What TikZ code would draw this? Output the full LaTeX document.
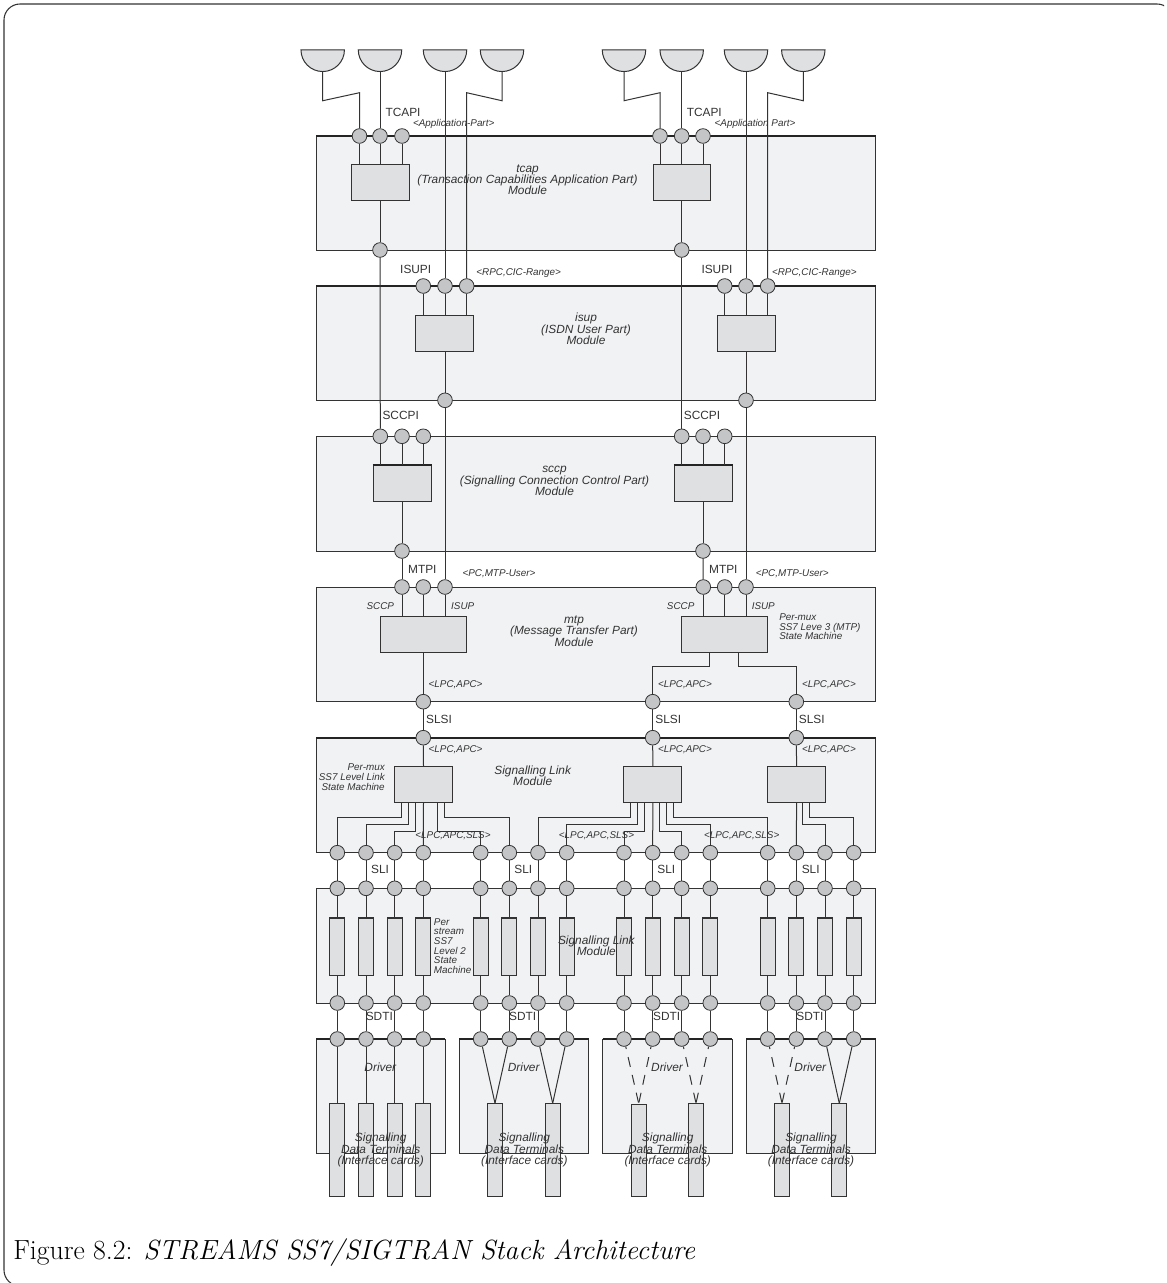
\documentclass[tikz,border=0pt]{standalone}
\usepackage{fontspec}
\usepackage{xcolor}
\usepackage{tikz}
\usetikzlibrary{shapes.geometric}
\newfontfamily\labelfont{Liberation Sans}
\definecolor{modfill}{HTML}{F1F2F4}
\definecolor{boxfill}{HTML}{DFE0E2}
\definecolor{dotfill}{HTML}{C4C5C7}
\definecolor{inkgray}{HTML}{333333}
\tikzset{
    modbox/.style={draw=inkgray, fill=modfill, line width=0.75pt},
    topbar/.style={draw=inkgray!70!black, line width=1.2pt},
    wire/.style={draw=inkgray, line width=0.75pt},
    gapwire/.style={wire, dash pattern=on 7.5pt off 6.2pt, dash phase=5.6pt},
    dot/.style={circle, draw=inkgray, fill=dotfill, line width=0.6pt, inner sep=0pt, minimum size=11pt},
    block/.style={rectangle, draw=inkgray, fill=boxfill, line width=0.75pt, inner sep=0pt, minimum width=43.4pt, minimum height=27pt},
    widebox/.style={block, minimum width=64.6pt},
    strm/.style={block, minimum width=11pt, minimum height=43.2pt,
        path picture={\draw[line width=2pt, inkgray] (path picture bounding box.north west) -- (path picture bounding box.north east);}},
    term/.style={block, minimum width=11pt, minimum height=69.7pt},
    app/.style={semicircle, shape border rotate=180, draw=inkgray, fill=boxfill, line width=0.75pt, inner sep=0pt, minimum width=32.5pt, minimum height=16.3pt, anchor=chord center},
    ifname/.style={inner sep=0pt, text=inkgray, font=\labelfont\fontsize{8.9}{8.6}\selectfont},
    modname/.style={inner sep=0pt, text=inkgray, align=center, font=\labelfont\itshape\fontsize{8.9}{8.6}\selectfont},
    note/.style={inner sep=0pt, text=inkgray, font=\labelfont\itshape\fontsize{7.4}{7.4}\selectfont},
}
\begin{document}
\begin{tikzpicture}[x=0.75pt, y=-0.75pt]
    \useasboundingbox (0,0) rectangle (1167,1283);
    % Frame
    \begin{scope}
        \clip (0,0) rectangle (1164,1283);
        \draw[inkgray, line width=0.8pt, rounded corners=12pt] (4,4) rectangle (1173,1286);
    \end{scope}

    % Modules
    \draw[modbox] (316,136) rectangle (875.7,250);
    \draw[topbar] (316,136) -- (875.7,136);
    \draw[modbox] (316,286) rectangle (875.7,400.3);
    \draw[topbar] (316,286) -- (875.7,286);
    \draw[modbox] (316,436.3) rectangle (875.7,551);
    \draw[modbox] (316,587) rectangle (875.7,701.7);
    \draw[modbox] (316,737.7) rectangle (875.7,852.7);
    \draw[topbar] (316,737.7) -- (875.7,737.7);
    \draw[modbox] (316,888.3) rectangle (875.7,1003);
    \draw[modbox] (316,1039) rectangle (445,1153.7);
    \draw[topbar] (316,1039) -- (445,1039);
    \draw[modbox] (459.3,1039) rectangle (588.7,1153.7);
    \draw[topbar] (459.3,1039) -- (588.7,1039);
    \draw[modbox] (602.7,1039) rectangle (732,1153.7);
    \draw[topbar] (602.7,1039) -- (732,1039);
    \draw[modbox] (746,1039) rectangle (875.7,1153.7);
    \draw[topbar] (746,1039) -- (875.7,1039);

    % Applications
    \node[app] (apA) at (322.7,49.3) {};
    \node[app] (apB) at (380,49.3) {};
    \node[app] (apC) at (445,49.3) {};
    \node[app] (apD) at (502,49.3) {};
    \node[app] (apE) at (624,49.3) {};
    \node[app] (apF) at (681.7,49.3) {};
    \node[app] (apG) at (746,49.3) {};
    \node[app] (apH) at (803.3,49.3) {};

    % tcap
    \node[dot] (tcA) at (359.5,136) {};
    \node[dot] (tcB) at (380,136) {};
    \node[dot] (tcC) at (402,136) {};
    \node[dot] (tcD) at (660,136) {};
    \node[dot] (tcE) at (681.7,136) {};
    \node[dot] (tcF) at (703,136) {};
    \node[block] (tcL) at (380.4,182.3) {};
    \node[block] (tcR) at (682,182.3) {};
    \node[dot] (tcS) at (380,250) {};
    \node[dot] (tcT) at (681.7,250) {};

    % isup
    \node[dot] (isA) at (423.3,286) {};
    \node[dot] (isB) at (445,286) {};
    \node[dot] (isC) at (466.7,286) {};
    \node[dot] (isD) at (724.7,286) {};
    \node[dot] (isE) at (746,286) {};
    \node[dot] (isF) at (767.7,286) {};
    \node[block] (isL) at (444.7,333) {};
    \node[block] (isR) at (746.7,333) {};
    \node[dot] (isS) at (445,400.3) {};
    \node[dot] (isT) at (746,400.3) {};

    % sccp
    \node[dot] (scA) at (380.3,436.3) {};
    \node[dot] (scB) at (402,436.3) {};
    \node[dot] (scC) at (423.3,436.3) {};
    \node[dot] (scD) at (681.7,436.3) {};
    \node[dot] (scE) at (703,436.3) {};
    \node[dot] (scF) at (724.7,436.3) {};
    \node[block] (scL) at (402.2,483.7) {};
    \node[block] (scR) at (703.4,483.7) {};
    \draw[topbar] (scL.north west) -- (scL.north east);
    \draw[topbar] (scR.north west) -- (scR.north east);
    \node[dot] (scS) at (402,551) {};
    \node[dot] (scT) at (703,551) {};

    % mtp
    \node[dot] (mtA) at (402,587) {};
    \node[dot] (mtB) at (423.3,587) {};
    \node[dot] (mtC) at (445,587) {};
    \node[dot] (mtD) at (703.3,587) {};
    \node[dot] (mtE) at (724.7,587) {};
    \node[dot] (mtF) at (746,587) {};
    \node[widebox] (mtL) at (423.3,634.3) {};
    \node[widebox] (mtR) at (724.7,634.3) {};
    \node[dot] (mtS) at (423.3,701.7) {};
    \node[dot] (mtT) at (652.7,701.7) {};
    \node[dot] (mtU) at (796.3,701.7) {};

    % Signalling Link, upper part
    \node[dot] (slA) at (423.3,737.7) {};
    \node[dot] (slB) at (652.7,737.7) {};
    \node[dot] (slC) at (796.3,737.7) {};
    \node[block] (slL) at (423.5,784.3) {};
    \node[block] (slM) at (652.8,784.3) {};
    \node[block] (slR) at (796.6,784.3) {};

    % Streams, one column at a time
    \node[dot] (sa1) at (337.3,852.7) {};
    \node[dot] (sb1) at (337.3,888.3) {};
    \node[strm] (st1) at (337.3,946.5) {};
    \node[dot] (sc1) at (337.3,1003) {};
    \node[dot] (sd1) at (337.3,1039) {};
    \node[dot] (sa2) at (366,852.7) {};
    \node[dot] (sb2) at (366,888.3) {};
    \node[strm] (st2) at (366,946.5) {};
    \node[dot] (sc2) at (366,1003) {};
    \node[dot] (sd2) at (366,1039) {};
    \node[dot] (sa3) at (394.7,852.7) {};
    \node[dot] (sb3) at (394.7,888.3) {};
    \node[strm] (st3) at (394.7,946.5) {};
    \node[dot] (sc3) at (394.7,1003) {};
    \node[dot] (sd3) at (394.7,1039) {};
    \node[dot] (sa4) at (423.3,852.7) {};
    \node[dot] (sb4) at (423.3,888.3) {};
    \node[strm] (st4) at (423.3,946.5) {};
    \node[dot] (sc4) at (423.3,1003) {};
    \node[dot] (sd4) at (423.3,1039) {};
    \node[dot] (sa5) at (480.7,852.7) {};
    \node[dot] (sb5) at (480.7,888.3) {};
    \node[strm] (st5) at (480.7,946.5) {};
    \node[dot] (sc5) at (480.7,1003) {};
    \node[dot] (sd5) at (480.7,1039) {};
    \node[dot] (sa6) at (509.3,852.7) {};
    \node[dot] (sb6) at (509.3,888.3) {};
    \node[strm] (st6) at (509.3,946.5) {};
    \node[dot] (sc6) at (509.3,1003) {};
    \node[dot] (sd6) at (509.3,1039) {};
    \node[dot] (sa7) at (538,852.7) {};
    \node[dot] (sb7) at (538,888.3) {};
    \node[strm] (st7) at (538,946.5) {};
    \node[dot] (sc7) at (538,1003) {};
    \node[dot] (sd7) at (538,1039) {};
    \node[dot] (sa8) at (566.7,852.7) {};
    \node[dot] (sb8) at (566.7,888.3) {};
    \node[strm] (st8) at (566.7,946.5) {};
    \node[dot] (sc8) at (566.7,1003) {};
    \node[dot] (sd8) at (566.7,1039) {};
    \node[dot] (sa9) at (624,852.7) {};
    \node[dot] (sb9) at (624,888.3) {};
    \node[strm] (st9) at (624,946.5) {};
    \node[dot] (sc9) at (624,1003) {};
    \node[dot] (sd9) at (624,1039) {};
    \node[dot] (sa10) at (652.7,852.7) {};
    \node[dot] (sb10) at (652.7,888.3) {};
    \node[strm] (st10) at (652.7,946.5) {};
    \node[dot] (sc10) at (652.7,1003) {};
    \node[dot] (sd10) at (652.7,1039) {};
    \node[dot] (sa11) at (681.7,852.7) {};
    \node[dot] (sb11) at (681.7,888.3) {};
    \node[strm] (st11) at (681.7,946.5) {};
    \node[dot] (sc11) at (681.7,1003) {};
    \node[dot] (sd11) at (681.7,1039) {};
    \node[dot] (sa12) at (710.3,852.7) {};
    \node[dot] (sb12) at (710.3,888.3) {};
    \node[strm] (st12) at (710.3,946.5) {};
    \node[dot] (sc12) at (710.3,1003) {};
    \node[dot] (sd12) at (710.3,1039) {};
    \node[dot] (sa13) at (767.7,852.7) {};
    \node[dot] (sb13) at (767.7,888.3) {};
    \node[strm] (st13) at (767.7,946.5) {};
    \node[dot] (sc13) at (767.7,1003) {};
    \node[dot] (sd13) at (767.7,1039) {};
    \node[dot] (sa14) at (796.3,852.7) {};
    \node[dot] (sb14) at (796.3,888.3) {};
    \node[strm] (st14) at (796.3,946.5) {};
    \node[dot] (sc14) at (796.3,1003) {};
    \node[dot] (sd14) at (796.3,1039) {};
    \node[dot] (sa15) at (825,852.7) {};
    \node[dot] (sb15) at (825,888.3) {};
    \node[strm] (st15) at (825,946.5) {};
    \node[dot] (sc15) at (825,1003) {};
    \node[dot] (sd15) at (825,1039) {};
    \node[dot] (sa16) at (853.7,852.7) {};
    \node[dot] (sb16) at (853.7,888.3) {};
    \node[strm] (st16) at (853.7,946.5) {};
    \node[dot] (sc16) at (853.7,1003) {};
    \node[dot] (sd16) at (853.7,1039) {};

    % Terminals
    \node[term] (dtA) at (337.3,1150.2) {};
    \node[term] (dtB) at (366,1150.2) {};
    \node[term] (dtC) at (394.7,1150.2) {};
    \node[term] (dtD) at (423.3,1150.2) {};
    \node[term] (dtE) at (495,1150.2) {};
    \node[term] (dtF) at (552.7,1150.2) {};
    \node[term] (dtG) at (638.7,1150.5) {};
    \node[term] (dtH) at (696,1150.2) {};
    \node[term] (dtJ) at (782,1150.2) {};
    \node[term] (dtK) at (839.3,1150.2) {};

    % Wires from the applications
    \draw[wire] (apA.apex) -- ++(0,28.7) -- (359.5,92.7) -- (tcA);
    \draw[wire] (apB.apex) -- (tcB);
    \draw[wire] (apC.apex) -- (isB);
    \draw[wire] (apD.apex) -- ++(0,28.7) -- (466.7,92.7) -- (isC);
    \draw[wire] (apE.apex) -- ++(0,28.7) -- (660,92.7) -- (tcD);
    \draw[wire] (apF.apex) -- (tcE);
    \draw[wire] (apG.apex) -- (isE);
    \draw[wire] (apH.apex) -- ++(0,28.7) -- (767.7,92.7) -- (isF);

    % Wires tcap to isup to sccp to mtp
    \draw[wire] (tcA) -- (tcA |- tcL.north);
    \draw[wire] (tcB) -- (tcB |- tcL.north);
    \draw[wire] (tcC) -- (tcC |- tcL.north);
    \draw[wire] (tcD) -- (tcD |- tcR.north);
    \draw[wire] (tcE) -- (tcE |- tcR.north);
    \draw[wire] (tcF) -- (tcF |- tcR.north);
    \draw[wire] (tcS |- tcL.south) -- (tcS);
    \draw[wire] (tcT |- tcR.south) -- (tcT);
    \draw[wire] (tcS) -- (scA);
    \draw[wire] (tcT) -- (scD);
    \draw[wire] (isA) -- (isA |- isL.north);
    \draw[wire] (isB) -- (isB |- isL.north);
    \draw[wire] (isC) -- (isC |- isL.north);
    \draw[wire] (isD) -- (isD |- isR.north);
    \draw[wire] (isE) -- (isE |- isR.north);
    \draw[wire] (isF) -- (isF |- isR.north);
    \draw[wire] (isS |- isL.south) -- (isS);
    \draw[wire] (isT |- isR.south) -- (isT);
    \draw[wire] (isS) -- (mtC);
    \draw[wire] (isT) -- (mtF);
    \draw[wire] (scA) -- (scA |- scL.north);
    \draw[wire] (scB) -- (scB |- scL.north);
    \draw[wire] (scC) -- (scC |- scL.north);
    \draw[wire] (scD) -- (scD |- scR.north);
    \draw[wire] (scE) -- (scE |- scR.north);
    \draw[wire] (scF) -- (scF |- scR.north);
    \draw[wire] (scS |- scL.south) -- (scS);
    \draw[wire] (scT |- scR.south) -- (scT);
    \draw[wire] (scS) -- (mtA);
    \draw[wire] (scT) -- (mtD);

    % Wires mtp to Signalling Link
    \draw[wire] (mtA) -- (mtA |- mtL.north);
    \draw[wire] (mtB) -- (mtB |- mtL.north);
    \draw[wire] (mtC) -- (mtC |- mtL.north);
    \draw[wire] (mtD) -- (mtD |- mtR.north);
    \draw[wire] (mtE) -- (mtE |- mtR.north);
    \draw[wire] (mtF) -- (mtF |- mtR.north);
    \draw[wire] (mtL.south) -- (mtS);
    \draw[wire] ([xshift=21.5pt]mtR.south west) -- ++(0,13.7) -| (mtT);
    \draw[wire] ([xshift=43pt]mtR.south west) -- ++(0,13.7) -| (mtU);
    \draw[wire] (mtS) -- (slA);
    \draw[wire] (mtT) -- (slB);
    \draw[wire] (mtU) -- (slC);
    \draw[wire] (slA) -- (slL.north);
    \draw[wire] (slB) -- (slM.north);
    \draw[wire] (slC) -- (slR.north);

    % Fan out below the Signalling Link blocks
    \draw[wire] ([xshift=5.5pt]slL.south west) -- ++(0,14.4) -| (sa1);
    \draw[wire] ([xshift=10.7pt]slL.south west) -- ++(0,21.4) -| (sa2);
    \draw[wire] ([xshift=16pt]slL.south west) -- ++(0,28.7) -| (sa3);
    \draw[wire] (slL.south) -- (sa4);
    \draw[wire] ([xshift=32.3pt]slL.south west) -- ++(0,28.7) -| (sa5);
    \draw[wire] ([xshift=37.5pt]slL.south west) -- ++(0,14.4) -| (sa6);
    \draw[wire] ([xshift=5.5pt]slM.south west) -- ++(0,14.4) -| (sa7);
    \draw[wire] ([xshift=10.7pt]slM.south west) -- ++(0,21.4) -| (sa8);
    \draw[wire] ([xshift=16pt]slM.south west) -- ++(0,28.7) -| (sa9);
    \draw[wire] (slM.south) -- (sa10);
    \draw[wire] ([xshift=27pt]slM.south west) -- ++(0,28.7) -| (sa11);
    \draw[wire] ([xshift=32.3pt]slM.south west) -- ++(0,21.4) -| (sa12);
    \draw[wire] ([xshift=37.7pt]slM.south west) -- ++(0,14.4) -| (sa13);
    \draw[wire] (slR.south) -- (sa14);
    \draw[wire] ([xshift=26.7pt]slR.south west) -- ++(0,21.4) -| (sa15);
    \draw[wire] ([xshift=32pt]slR.south west) -- ++(0,14.4) -| (sa16);

    % Wires through the streams
    \draw[wire] (sa1) -- (sb1);
    \draw[wire] (sb1) -- (st1);
    \draw[wire] (st1) -- (sc1);
    \draw[wire] (sc1) -- (sd1);
    \draw[wire] (sa2) -- (sb2);
    \draw[wire] (sb2) -- (st2);
    \draw[wire] (st2) -- (sc2);
    \draw[wire] (sc2) -- (sd2);
    \draw[wire] (sa3) -- (sb3);
    \draw[wire] (sb3) -- (st3);
    \draw[wire] (st3) -- (sc3);
    \draw[wire] (sc3) -- (sd3);
    \draw[wire] (sa4) -- (sb4);
    \draw[wire] (sb4) -- (st4);
    \draw[wire] (st4) -- (sc4);
    \draw[wire] (sc4) -- (sd4);
    \draw[wire] (sa5) -- (sb5);
    \draw[wire] (sb5) -- (st5);
    \draw[wire] (st5) -- (sc5);
    \draw[wire] (sc5) -- (sd5);
    \draw[wire] (sa6) -- (sb6);
    \draw[wire] (sb6) -- (st6);
    \draw[wire] (st6) -- (sc6);
    \draw[wire] (sc6) -- (sd6);
    \draw[wire] (sa7) -- (sb7);
    \draw[wire] (sb7) -- (st7);
    \draw[wire] (st7) -- (sc7);
    \draw[wire] (sc7) -- (sd7);
    \draw[wire] (sa8) -- (sb8);
    \draw[wire] (sb8) -- (st8);
    \draw[wire] (st8) -- (sc8);
    \draw[wire] (sc8) -- (sd8);
    \draw[wire] (sa9) -- (sb9);
    \draw[wire] (sb9) -- (st9);
    \draw[wire] (st9) -- (sc9);
    \draw[wire] (sc9) -- (sd9);
    \draw[wire] (sa10) -- (sb10);
    \draw[wire] (sb10) -- (st10);
    \draw[wire] (st10) -- (sc10);
    \draw[wire] (sc10) -- (sd10);
    \draw[wire] (sa11) -- (sb11);
    \draw[wire] (sb11) -- (st11);
    \draw[wire] (st11) -- (sc11);
    \draw[wire] (sc11) -- (sd11);
    \draw[wire] (sa12) -- (sb12);
    \draw[wire] (sb12) -- (st12);
    \draw[wire] (st12) -- (sc12);
    \draw[wire] (sc12) -- (sd12);
    \draw[wire] (sa13) -- (sb13);
    \draw[wire] (sb13) -- (st13);
    \draw[wire] (st13) -- (sc13);
    \draw[wire] (sc13) -- (sd13);
    \draw[wire] (sa14) -- (sb14);
    \draw[wire] (sb14) -- (st14);
    \draw[wire] (st14) -- (sc14);
    \draw[wire] (sc14) -- (sd14);
    \draw[wire] (sa15) -- (sb15);
    \draw[wire] (sb15) -- (st15);
    \draw[wire] (st15) -- (sc15);
    \draw[wire] (sc15) -- (sd15);
    \draw[wire] (sa16) -- (sb16);
    \draw[wire] (sb16) -- (st16);
    \draw[wire] (st16) -- (sc16);
    \draw[wire] (sc16) -- (sd16);

    % Drivers to terminals
    \draw[wire] (sd1) -- (dtA);
    \draw[wire] (sd2) -- (dtB);
    \draw[wire] (sd3) -- (dtC);
    \draw[wire] (sd4) -- (dtD);
    \draw[wire] (sd5) -- (dtE.north);
    \draw[wire] (sd6) -- (dtE.north);
    \draw[wire] (sd7) -- (dtF.north);
    \draw[wire] (sd8) -- (dtF.north);
    \draw[gapwire] (sd9) -- (dtG.north);
    \draw[gapwire] (sd10) -- (dtG.north);
    \draw[gapwire] (sd11) -- (dtH.north);
    \draw[gapwire] (sd12) -- (dtH.north);
    \draw[gapwire] (sd13) -- (dtJ.north);
    \draw[gapwire] (sd14) -- (dtJ.north);
    \draw[wire] (sd15) -- (dtK.north);
    \draw[wire] (sd16) -- (dtK.north);

    % Interface names
    \node[ifname] (lbTcA) at (403,112) {TCAPI};
    \node[ifname] (lbTcB) at (704.3,112) {TCAPI};
    \node[ifname] (lbIsA) at (415.7,269) {ISUPI};
    \node[ifname] (lbIsB) at (717,269) {ISUPI};
    \node[ifname] (lbScA) at (400.7,415) {SCCPI};
    \node[ifname] (lbScB) at (702,415) {SCCPI};
    \node[ifname] (lbMtA) at (422.3,569) {MTPI};
    \node[ifname] (lbMtB) at (723.3,569) {MTPI};
    \node[ifname] (lbSlsA) at (439,719.3) {SLSI};
    \node[ifname] (lbSlsB) at (668.3,719.3) {SLSI};
    \node[ifname] (lbSlsC) at (811.7,719.3) {SLSI};
    \node[ifname] (lbSliA) at (380,869) {SLI};
    \node[ifname] (lbSliB) at (523.3,869) {SLI};
    \node[ifname] (lbSliC) at (666.3,869) {SLI};
    \node[ifname] (lbSliD) at (810.7,869) {SLI};
    \node[ifname] (lbSdA) at (379.3,1016.7) {SDTI};
    \node[ifname] (lbSdB) at (522.7,1016.7) {SDTI};
    \node[ifname] (lbSdC) at (666.7,1016.7) {SDTI};
    \node[ifname] (lbSdD) at (810,1016.7) {SDTI};

    % Small notes
    \node[note] (nApA) at (453.7,124.3) {<Application-Part>};
    \node[note] (nApB) at (755,124.3) {<Application Part>};
    \node[note] (nRpA) at (518.7,273.3) {<RPC,CIC-Range>};
    \node[note] (nRpB) at (814.3,273.3) {<RPC,CIC-Range>};
    \node[note] (nPcA) at (499,574) {<PC,MTP-User>};
    \node[note] (nPcB) at (792.3,574) {<PC,MTP-User>};
    \node[note] (nScA) at (380.3,605.7) {SCCP};
    \node[note] (nIsA) at (462.7,605.7) {ISUP};
    \node[note] (nScB) at (680.7,605.7) {SCCP};
    \node[note] (nIsB) at (763.3,605.7) {ISUP};
    \node[note] (nLcA) at (455.6,685) {<LPC,APC>};
    \node[note] (nLcB) at (685,685) {<LPC,APC>};
    \node[note] (nLcC) at (829,685) {<LPC,APC>};
    \node[note] (nLcD) at (455.6,750) {<LPC,APC>};
    \node[note] (nLcE) at (685,750) {<LPC,APC>};
    \node[note] (nLcF) at (829,750) {<LPC,APC>};
    \node[note] (nLsA) at (453,836) {<LPC,APC,SLS>};
    \node[note] (nLsB) at (596.5,836) {<LPC,APC,SLS>};
    \node[note] (nLsC) at (741.7,836) {<LPC,APC,SLS>};
    \node[note, anchor=west, align=left] (nPmA) at (779,626.7) {Per-mux\\SS7 Leve 3 (MTP)\\State Machine};
    \node[note, anchor=east, align=right] (nPmB) at (385,777.5) {Per-mux\\SS7 Level Link\\State Machine};
    \node[note, anchor=west, align=left, font=\labelfont\itshape\fontsize{7.4}{7.3}\selectfont] (nPs) at (433.7,946) {Per\\stream\\SS7\\Level 2\\State\\Machine};

    % Module names
    \node[modname] (mdTc) at (527.5,179.7) {tcap\\(Transaction Capabilities Application Part)\\Module};
    \node[modname] (mdIs) at (586,329) {isup\\(ISDN User Part)\\Module};
    \node[modname] (mdSc) at (554.5,481) {sccp\\(Signalling Connection Control Part)\\Module};
    \node[modname] (mdMt) at (574,631) {mtp\\(Message Transfer Part)\\Module};
    \node[modname] (mdSlA) at (532.7,776) {Signalling Link\\Module};
    \node[modname] (mdSlB) at (596.3,946) {Signalling Link\\Module};
    \node[modname] (mdDrA) at (380.3,1067.3) {Driver};
    \node[modname] (mdDrB) at (523.7,1067.3) {Driver};
    \node[modname] (mdDrC) at (667,1067.3) {Driver};
    \node[modname] (mdDrD) at (810.3,1067.3) {Driver};
    \node[modname] (mdDtA) at (380.7,1150) {Signalling\\Data Terminals\\(Interface cards)};
    \node[modname] (mdDtB) at (524.3,1150) {Signalling\\Data Terminals\\(Interface cards)};
    \node[modname] (mdDtC) at (667.7,1150) {Signalling\\Data Terminals\\(Interface cards)};
    \node[modname] (mdDtD) at (811,1150) {Signalling\\Data Terminals\\(Interface cards)};

    % Caption
    \node[anchor=base west, inner sep=0pt, font=\fontsize{20.8}{25}\selectfont] (cap) at (13,1259) {Figure 8.2: \textit{STREAMS SS7/SIGTRAN Stack Architecture}};
\end{tikzpicture}
\end{document}
